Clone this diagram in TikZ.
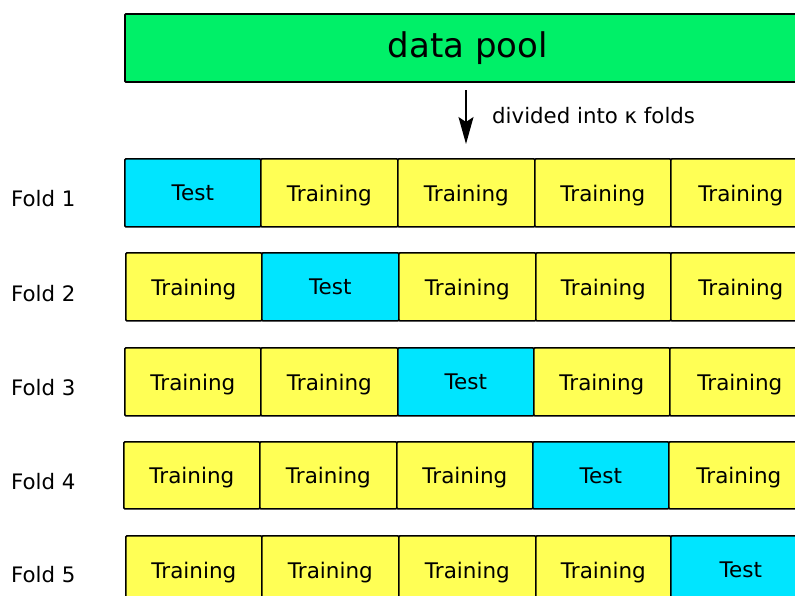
\documentclass[tikz,border=0pt]{standalone}
\usepackage{fontspec}
\setmainfont{DejaVu Sans}
\usetikzlibrary{arrows.meta}
\definecolor{poolgreen}{RGB}{0,240,104}
\definecolor{testcyan}{RGB}{0,229,255}
\definecolor{trainyellow}{RGB}{255,255,85}
\tikzset{
  cellbox/.style={draw=black, line width=1.7pt, anchor=north west, inner sep=0pt,
    rounded corners=1pt, minimum height=68pt, text depth=0pt,
    font=\fontsize{21.5}{24}\selectfont},
  testcell/.style={cellbox, fill=testcyan},
  traincell/.style={cellbox, fill=trainyellow},
  foldlabel/.style={anchor=west, inner sep=0pt, font=\fontsize{21.3}{24}\selectfont},
  poolbox/.style={draw=black, line width=1.9pt, fill=poolgreen, anchor=north west,
    inner sep=0pt, rounded corners=1pt, minimum width=686pt, minimum height=68pt,
    font=\fontsize{34}{40}\selectfont},
}
\begin{document}
\begin{tikzpicture}[x=1pt,y=-1pt]
\useasboundingbox (0,0) rectangle (795,595);
\clip (0,0) rectangle (795,595);

% data pool
\node[poolbox] (pool) at (124,13) {data pool};
\coordinate (arrtop) at (466,90);
\coordinate (arrbot) at (466,144);
\draw[line width=1.4pt, -{Stealth[length=27pt, width=15pt, inset=5pt]}] (arrtop) -- (arrbot);
\node[anchor=west, inner sep=0pt, font=\fontsize{21.3}{24}\selectfont] (divlabel) at (492,116) {divided into κ folds};

% fold 1
\node[foldlabel] (f1) at (11,199) {Fold 1};
\node[testcell,  minimum width=136pt] (c11) at (124,158) {Test};
\node[traincell, minimum width=137pt] (c12) at (260,158) {Training};
\node[traincell, minimum width=137pt] (c13) at (397,158) {Training};
\node[traincell, minimum width=136pt] (c14) at (534,158) {Training};
\node[traincell, minimum width=140pt] (c15) at (670,158) {Training};

% fold 2
\node[foldlabel] (f2) at (11,294) {Fold 2};
\node[traincell, minimum width=136pt] (c21) at (125,252) {Training};
\node[testcell,  minimum width=137pt] (c22) at (261,252) {Test};
\node[traincell, minimum width=137pt] (c23) at (398,252) {Training};
\node[traincell, minimum width=135pt] (c24) at (535,252) {Training};
\node[traincell, minimum width=140pt] (c25) at (670,252) {Training};

% fold 3
\node[foldlabel] (f3) at (11,388) {Fold 3};
\node[traincell, minimum width=136pt] (c31) at (124,347) {Training};
\node[traincell, minimum width=137pt] (c32) at (260,347) {Training};
\node[testcell,  minimum width=136pt] (c33) at (397,347) {Test};
\node[traincell, minimum width=136pt] (c34) at (533,347) {Training};
\node[traincell, minimum width=140pt] (c35) at (669,347) {Training};

% fold 4
\node[foldlabel] (f4) at (11,482) {Fold 4};
\node[traincell, minimum width=136pt, minimum height=67pt] (c41) at (123,441) {Training};
\node[traincell, minimum width=137pt, minimum height=67pt] (c42) at (259,441) {Training};
\node[traincell, minimum width=136pt, minimum height=67pt] (c43) at (396,441) {Training};
\node[testcell,  minimum width=136pt, minimum height=67pt] (c44) at (532,441) {Test};
\node[traincell, minimum width=140pt, minimum height=67pt] (c45) at (668,441) {Training};

% fold 5
\node[foldlabel] (f5) at (11,575) {Fold 5};
\node[traincell, minimum width=136pt] (c51) at (125,535) {Training};
\node[traincell, minimum width=137pt] (c52) at (261,535) {Training};
\node[traincell, minimum width=137pt] (c53) at (398,535) {Training};
\node[traincell, minimum width=135pt] (c54) at (535,535) {Training};
\node[testcell,  minimum width=140pt] (c55) at (670,535) {Test};
\end{tikzpicture}
\end{document}
